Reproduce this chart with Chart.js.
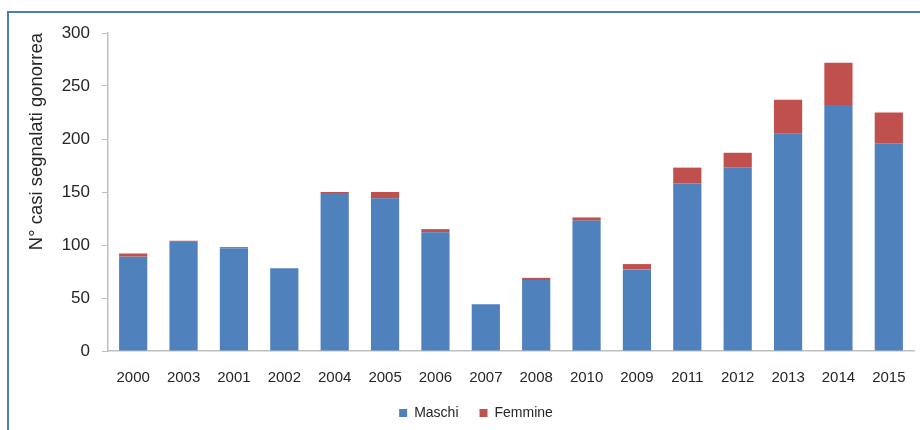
<!DOCTYPE html>
<html>
<head>
<meta charset="utf-8">
<script src="https://cdn.jsdelivr.net/npm/chart.js@4/dist/chart.umd.min.js"></script>
<style>
  body { margin: 0; background: #fff; }
  #wrap { position: relative; width: 920px; height: 430px; }
  #cornice { position: absolute; left: 7px; top: 11px; right: 0; bottom: 0;
             border-top: 2px solid #4a7ebb; border-left: 2px solid #4a7ebb; }
  canvas { position: absolute; left: 0; top: 0; }
</style>
</head>
<body>
<div id="wrap">
  <div id="cornice"></div>
  <canvas id="gonorrea" width="920" height="430"></canvas>
</div>
<script>
// Casi di gonorrea segnalati per anno, per sesso
const anni = ['2000', '2003', '2001', '2002', '2004', '2005', '2006', '2007',
              '2008', '2010', '2009', '2011', '2012', '2013', '2014', '2015'];
const maschi  = [89, 103, 97, 78, 149, 144, 112, 44, 67, 123, 77, 158, 173, 205, 232, 196];
const femmine = [3, 1, 1, 0, 1, 6, 3, 0, 2, 3, 5, 15, 14, 32, 40, 29];
const tickY = [0, 50, 100, 150, 200, 250, 300];

const testo = '#262626';
const asse = '#bfbfbf';

// sposta la legenda un po' più su e a destra, come nell'originale
const spostaLegenda = {
    id: 'spostaLegenda',
    afterLayout(chart) {
        const l = chart.legend;
        l.left += 19; l.right += 19;
        l.top -= 20; l.bottom -= 20;
    }
};

const ctx = document.getElementById('gonorrea').getContext('2d');

new Chart(ctx, {
    type: 'bar',
    data: {
        labels: anni,
        datasets: [{
            label: 'Maschi',
            data: maschi,
            backgroundColor: '#4f81bd',
            barPercentage: 0.56,
            categoryPercentage: 1
        }, {
            label: 'Femmine',
            data: femmine,
            backgroundColor: '#c0504d',
            barPercentage: 0.56,
            categoryPercentage: 1
        }]
    },
    plugins: [spostaLegenda],
    options: {
        responsive: false,
        animation: false,
        layout: { padding: { top: 33, right: 6, left: 0, bottom: -20 } },
        font: { family: '"Liberation Sans", Arial, sans-serif' },
        plugins: {
            tooltip: { enabled: false },
            legend: {
                position: 'bottom',
                labels: {
                    color: testo,
                    font: { size: 14 },
                    boxWidth: 8,
                    boxHeight: 8,
                    padding: 21
                }
            }
        },
        scales: {
            x: {
                stacked: true,
                afterFit: (scale) => { scale.paddingLeft = 0; scale.paddingRight = 0; },
                grid: { display: false, drawTicks: false },
                border: { color: asse, width: 1.5 },
                ticks: { color: testo, font: { size: 15, lineHeight: 1 }, padding: 19.5, maxRotation: 0 }
            },
            y: {
                stacked: true,
                min: 0,
                max: 300,
                afterBuildTicks: (scale) => { scale.ticks = tickY.map(v => ({ value: v })); },
                afterFit: (scale) => { scale.width = 108; },
                grid: { drawOnChartArea: false, drawTicks: true, tickLength: 6, color: asse },
                border: { color: asse, width: 1.5 },
                ticks: { color: testo, font: { size: 17 }, padding: 12 },
                title: {
                    display: true,
                    text: 'N° casi segnalati gonorrea',
                    align: 'end',
                    color: testo,
                    font: { size: 18.5 },
                    padding: { top: 26, bottom: 0 }
                }
            }
        }
    }
});
</script>
</body>
</html>
